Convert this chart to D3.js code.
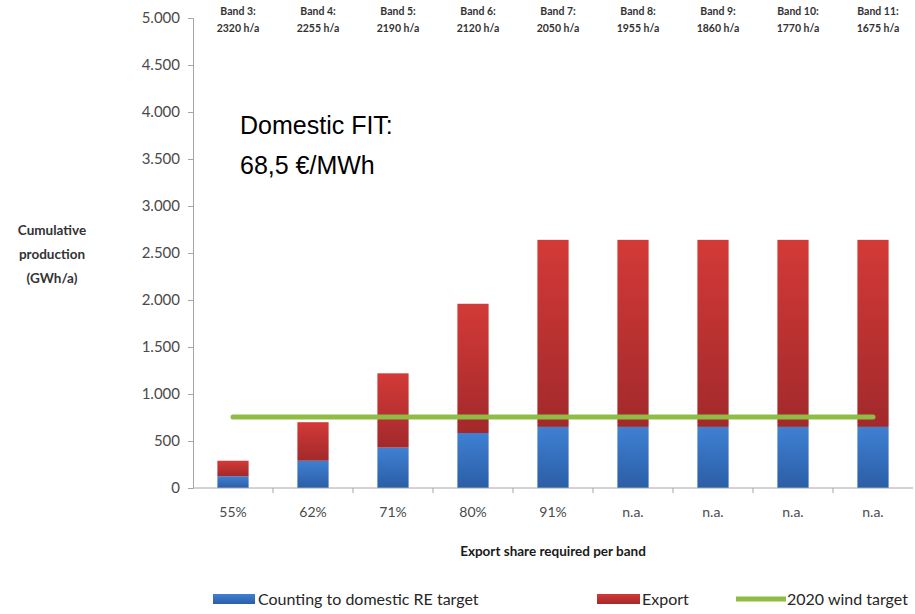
<!DOCTYPE html>
<html>
<head>
<meta charset="utf-8">
<script src="https://cdn.jsdelivr.net/npm/d3@7"></script>
<style>
  body { margin: 0; background: #fff; }
  svg { display: block; }
  text { font-family: Lato, "Open Sans", sans-serif; }
</style>
</head>
<body>
<div id="chart"></div>
<script>
// Data
const shares = ["55%", "62%", "71%", "80%", "91%", "n.a.", "n.a.", "n.a.", "n.a."];
const bandNames = ["Band 3:", "Band 4:", "Band 5:", "Band 6:", "Band 7:", "Band 8:", "Band 9:", "Band 10:", "Band 11:"];
const bandHours = ["2320 h/a", "2255 h/a", "2190 h/a", "2120 h/a", "2050 h/a", "1955 h/a", "1860 h/a", "1770 h/a", "1675 h/a"];
const domestic = [125, 290, 430, 585, 650, 650, 650, 650, 650];
const totals = [290, 700, 1220, 1960, 2640, 2640, 2640, 2640, 2640];
const windTarget = 755;
const yTicks = [0, 500, 1000, 1500, 2000, 2500, 3000, 3500, 4000, 4500, 5000];

const width = 915, height = 614;
const margin = { top: 18, right: 2, bottom: 126, left: 193 };
const plotW = width - margin.left - margin.right;
const plotH = height - margin.top - margin.bottom;

const svg = d3.select("#chart").append("svg")
    .attr("width", width)
    .attr("height", height);

// Vertical gradients like the Excel bars
const defs = svg.append("defs");
function addGradient(id, top, bottom) {
    const g = defs.append("linearGradient")
        .attr("id", id)
        .attr("x1", 0).attr("y1", 0).attr("x2", 0).attr("y2", 1);
    g.append("stop").attr("offset", "0%").attr("stop-color", top);
    g.append("stop").attr("offset", "100%").attr("stop-color", bottom);
}
addGradient("gBlue", "#3f80d3", "#2b5ea6");
addGradient("gRed", "#d33a37", "#a2292b");

const g = svg.append("g")
    .attr("transform", `translate(${margin.left},${margin.top})`);

const idx = d3.range(shares.length);
const x = d3.scaleBand()
    .domain(idx)
    .range([0, plotW])
    .paddingInner(0.61)
    .paddingOuter(0.305);

const y = d3.scaleLinear()
    .domain([0, 5000])
    .range([plotH, 0]);

const fmt = d => d3.format(",")(d).replace(/,/g, ".");

// Y axis
const yAxis = g.append("g")
    .call(d3.axisLeft(y).tickValues(yTicks).tickFormat(fmt).tickSizeOuter(0).tickSize(5).tickPadding(8));
yAxis.select(".domain").attr("stroke", "#a6a6a6");
yAxis.selectAll(".tick line").attr("stroke", "#a6a6a6");
yAxis.selectAll(".tick text")
    .attr("fill", "#4a4a4a")
    .style("font-size", "15px");

// Bars: domestic part
g.selectAll(".bar-dom")
    .data(idx)
    .join("rect")
    .attr("class", "bar-dom")
    .attr("x", i => x(i))
    .attr("width", x.bandwidth())
    .attr("y", i => y(domestic[i]))
    .attr("height", i => y(0) - y(domestic[i]))
    .attr("fill", "url(#gBlue)");

// Bars: export part
g.selectAll(".bar-exp")
    .data(idx)
    .join("rect")
    .attr("class", "bar-exp")
    .attr("x", i => x(i))
    .attr("width", x.bandwidth())
    .attr("y", i => y(totals[i]))
    .attr("height", i => y(domestic[i]) - y(totals[i]))
    .attr("fill", "url(#gRed)");

// X axis line and category boundary ticks
const step = x.step();
g.append("line")
    .attr("x1", 0).attr("x2", plotW)
    .attr("y1", y(0)).attr("y2", y(0))
    .attr("stroke", "#a6a6a6");
g.selectAll(".xtick")
    .data(idx.slice(1))
    .join("line")
    .attr("class", "xtick")
    .attr("x1", i => i * step).attr("x2", i => i * step)
    .attr("y1", y(0)).attr("y2", y(0) + 5)
    .attr("stroke", "#a6a6a6");

// X labels
g.selectAll(".xlabel")
    .data(idx)
    .join("text")
    .attr("class", "xlabel")
    .attr("x", i => x(i) + x.bandwidth() / 2)
    .attr("y", y(0) + 29)
    .attr("text-anchor", "middle")
    .attr("fill", "#4a4a4a")
    .style("font-size", "14px")
    .text(i => shares[i]);

// 2020 wind target line
g.append("line")
    .attr("x1", x(0) + x.bandwidth() / 2)
    .attr("x2", x(idx.length - 1) + x.bandwidth() / 2)
    .attr("y1", y(windTarget)).attr("y2", y(windTarget))
    .attr("stroke", "#8fbc45")
    .attr("stroke-width", 5)
    .attr("stroke-linecap", "round");

// Band labels above the plot
const bands = g.selectAll(".band")
    .data(idx)
    .join("text")
    .attr("class", "band")
    .attr("text-anchor", "middle")
    .attr("fill", "#333")
    .style("font-size", "10.5px")
    .style("font-weight", "bold");
bands.append("tspan")
    .attr("x", i => x(i) + x.bandwidth() / 2 + 5)
    .attr("y", -3)
    .text(i => bandNames[i]);
bands.append("tspan")
    .attr("x", i => x(i) + x.bandwidth() / 2 + 5)
    .attr("y", 14)
    .text(i => bandHours[i]);

// Annotation
const note = svg.append("text")
    .attr("fill", "#000")
    .style("font-family", "'Liberation Sans', Arial, sans-serif")
    .style("font-size", "25px");
note.append("tspan").attr("x", 240).attr("y", 134).text("Domestic FIT:");
note.append("tspan").attr("x", 240).attr("y", 174).text("68,5 €/MWh");

// Y title
const ytitle = svg.append("text")
    .attr("text-anchor", "middle")
    .attr("fill", "#333")
    .style("font-size", "13.5px")
    .style("font-weight", "bold");
["Cumulative", "production", "(GWh/a)"].forEach((t, k) => {
    ytitle.append("tspan").attr("x", 52).attr("y", 235 + k * 24).text(t);
});

// X title
svg.append("text")
    .attr("x", margin.left + plotW / 2)
    .attr("y", 556)
    .attr("text-anchor", "middle")
    .attr("fill", "#1a1a1a")
    .style("font-size", "13.5px")
    .style("font-weight", "bold")
    .text("Export share required per band");

// Legend
const legend = svg.append("g").attr("transform", "translate(0,599)");
legend.append("rect").attr("x", 213).attr("y", -5).attr("width", 42).attr("height", 10).attr("fill", "url(#gBlue)");
legend.append("text").attr("x", 258).attr("y", 6).attr("fill", "#262626").style("font-size", "16px").text("Counting to domestic RE target");
legend.append("rect").attr("x", 597).attr("y", -5).attr("width", 43).attr("height", 10).attr("fill", "url(#gRed)");
legend.append("text").attr("x", 642).attr("y", 6).attr("fill", "#262626").style("font-size", "16px").text("Export");
legend.append("line").attr("x1", 736).attr("x2", 786).attr("y1", 0).attr("y2", 0)
    .attr("stroke", "#8fbc45").attr("stroke-width", 5);
legend.append("text").attr("x", 787).attr("y", 6).attr("fill", "#262626").style("font-size", "16px").text("2020 wind target");
</script>
</body>
</html>
